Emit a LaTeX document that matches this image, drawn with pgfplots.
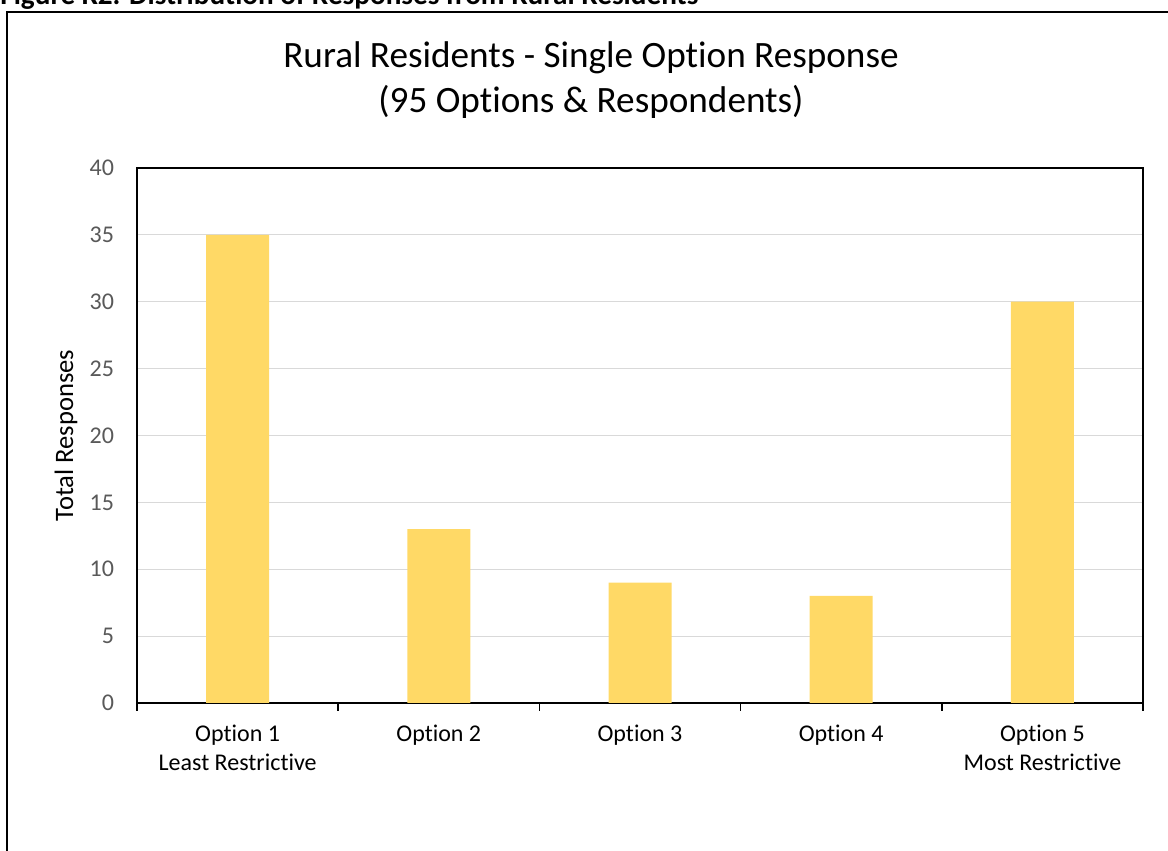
\documentclass[border=0pt]{standalone}
\usepackage{pgfplots}
\pgfplotsset{compat=1.18}
\usepackage{fontspec}
\setmainfont[Ligatures={NoCommon}]{Carlito}
\definecolor{barc}{HTML}{FFD966}
\definecolor{tickc}{HTML}{595959}
\definecolor{gridc}{HTML}{D9D9D9}
\begin{document}
\begin{tikzpicture}[x=0.5pt,y=0.5pt]
\useasboundingbox (0,0) rectangle (1168,851);
% outer frame (right and bottom edges are off the picture)
\draw[line width=1pt] (7,-20) -- (7,839) -- (1200,839);
% caption, cut off at the top
\node[anchor=base west,inner sep=0pt,font=\bfseries\fontsize{14.6pt}{16pt}\selectfont] at (0,846) {Figure K2. Distribution of Responses from Rural Residents};
% title
\node[align=center,font=\fontsize{18.6pt}{22.5pt}\selectfont] at (591,771) {Rural Residents - Single Option Response\\(95 Options \& Respondents)};
\begin{axis}[
  at={(68.5pt,74pt)}, anchor=south west,
  scale only axis, width=503pt, height=267.5pt,
  xmin=-0.5, xmax=4.5, ymin=0, ymax=40,
  ytick={0,5,...,40},
  xtick={-0.5,0.5,1.5,2.5,3.5,4.5},
  xticklabels={},
  extra x ticks={0,1,2,3,4},
  extra x tick labels={{Option 1\\Least Restrictive},{Option 2},{Option 3},{Option 4},{Option 5\\Most Restrictive}},
  extra x tick style={major tick length=0pt, grid=none, tick label style={align=center, font=\fontsize{12pt}{14.5pt}\selectfont, text=black, yshift=-7.5pt}},
  major tick length=4pt,
  x tick style={black, line width=0.8pt},
  tick align=outside,
  xtick pos=bottom,
  y tick style={draw=none},
  ymajorgrids, major grid style={gridc, line width=0.6pt},
  yticklabel style={font=\fontsize{12pt}{14pt}\selectfont, text=tickc, xshift=-4pt},
  axis line style={black, line width=1pt},
  ylabel={Total Responses},
  ylabel style={font=\fontsize{13.3pt}{15pt}\selectfont, at={(axis description cs:-0.0706,0.5)}, anchor=center},
  /pgf/number format/assume math mode=true,
]
\addplot[ybar, bar width=31.5pt, fill=barc, draw=none, bar shift=0pt] coordinates {(0,35) (1,13) (2,9) (3,8) (4,30)};
\end{axis}
\end{tikzpicture}
\end{document}
